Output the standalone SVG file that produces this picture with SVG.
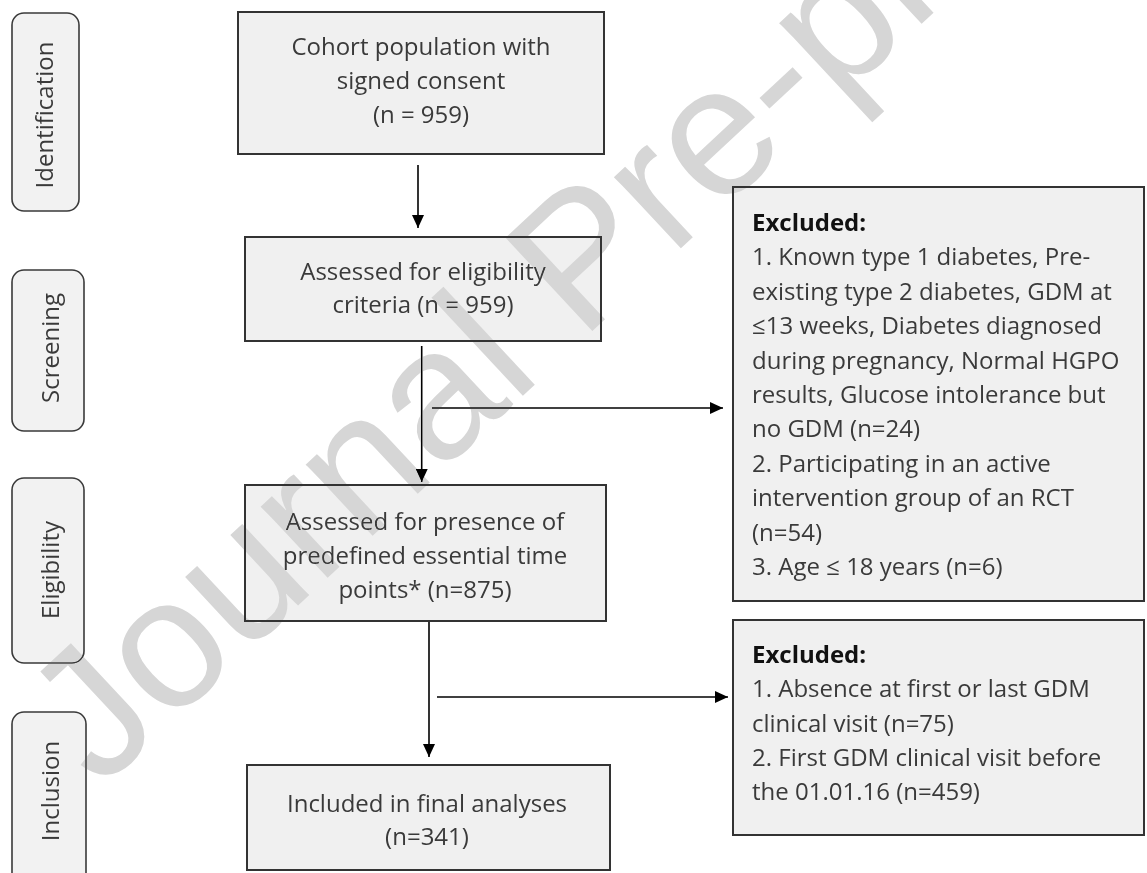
<svg xmlns="http://www.w3.org/2000/svg" width="1147" height="873" viewBox="0 0 1147 873">
<style>
.box{fill:#f0f0f0;stroke:#333;stroke-width:2}
.phase{fill:#f2f2f2;stroke:#3a3a3a;stroke-width:1.6}
.t{font-family:"Open Sans","Noto Sans",sans-serif;font-size:24px;fill:#3a3a3a}
.c{text-anchor:middle}
.b{font-weight:bold;fill:#111}
.ln{stroke:#000;stroke-width:1.6;fill:none}
.wm{font-family:"Liberation Sans",Arial,sans-serif;font-size:185px;fill:#d6d6d6;mix-blend-mode:darken}
</style>
<defs>
<marker id="ah" markerUnits="userSpaceOnUse" markerWidth="13" markerHeight="12" refX="13" refY="6" orient="auto">
<path d="M0,0 L13,6 L0,12 z" fill="#000"/>
</marker>
</defs>
<rect width="1147" height="873" fill="#fff"/>

<g id="phase-identification">
<rect class="phase" x="12" y="13" width="67" height="198" rx="12"/>
<text class="t c" transform="translate(53,115) rotate(-90)">Identification</text>
</g>
<g id="phase-screening">
<rect class="phase" x="12" y="270" width="72" height="161" rx="12"/>
<text class="t c" transform="translate(59,348) rotate(-90)">Screening</text>
</g>
<g id="phase-eligibility">
<rect class="phase" x="12" y="478" width="72" height="185" rx="12"/>
<text class="t c" transform="translate(59,570) rotate(-90)">Eligibility</text>
</g>
<g id="phase-inclusion">
<rect class="phase" x="12" y="712" width="74" height="175" rx="12"/>
<text class="t c" transform="translate(59,791) rotate(-90)">Inclusion</text>
</g>

<g id="cohort">
<rect class="box" x="238" y="12" width="366" height="142"/>
<text class="t c" x="421" y="55">Cohort population with</text>
<text class="t c" x="421" y="89">signed consent</text>
<text class="t c" x="421" y="123">(n = 959)</text>
</g>
<g id="assessed-eligibility">
<rect class="box" x="245" y="237" width="356" height="104"/>
<text class="t c" x="423" y="280">Assessed for eligibility</text>
<text class="t c" x="423" y="313">criteria (n = 959)</text>
</g>
<g id="assessed-timepoints">
<rect class="box" x="245" y="485" width="361" height="136"/>
<text class="t c" x="425" y="530">Assessed for presence of</text>
<text class="t c" x="425" y="564">predefined essential time</text>
<text class="t c" x="425" y="598">points* (n=875)</text>
</g>
<g id="included">
<rect class="box" x="247" y="765" width="363" height="105"/>
<text class="t c" x="427" y="812">Included in final analyses</text>
<text class="t c" x="427" y="845">(n=341)</text>
</g>
<g id="excluded-1">
<rect class="box" x="733" y="187" width="411" height="414"/>
<text class="t b" x="752" y="231">Excluded:</text>
<text class="t" x="752" y="265.4">1. Known type 1 diabetes, Pre-</text>
<text class="t" x="752" y="299.8">existing type 2 diabetes, GDM at</text>
<text class="t" x="752" y="334.2">≤13 weeks, Diabetes diagnosed</text>
<text class="t" x="752" y="368.6">during pregnancy, Normal HGPO</text>
<text class="t" x="752" y="403">results, Glucose intolerance but</text>
<text class="t" x="752" y="437.4">no GDM (n=24)</text>
<text class="t" x="752" y="471.8">2. Participating in an active</text>
<text class="t" x="752" y="506.2">intervention group of an RCT</text>
<text class="t" x="752" y="540.6">(n=54)</text>
<text class="t" x="752" y="575">3. Age ≤ 18 years (n=6)</text>
</g>
<g id="excluded-2">
<rect class="box" x="733" y="620" width="411" height="215"/>
<text class="t b" x="752" y="663">Excluded:</text>
<text class="t" x="752" y="697.3">1. Absence at first or last GDM</text>
<text class="t" x="752" y="731.6">clinical visit (n=75)</text>
<text class="t" x="752" y="765.9">2. First GDM clinical visit before</text>
<text class="t" x="752" y="800.2">the 01.01.16 (n=459)</text>
</g>

<g id="connectors">
<line class="ln" x1="418" y1="165" x2="418" y2="228" marker-end="url(#ah)"/>
<line class="ln" x1="421.7" y1="346" x2="421.7" y2="482" marker-end="url(#ah)"/>
<line class="ln" x1="432" y1="408" x2="723" y2="408" marker-end="url(#ah)"/>
<line class="ln" x1="429" y1="622" x2="429" y2="757" marker-end="url(#ah)"/>
<line class="ln" x1="437" y1="697" x2="728" y2="697" marker-end="url(#ah)"/>
</g>

<text class="wm" transform="translate(100,790) rotate(-43)">Journal Pre-proof</text>
</svg>
